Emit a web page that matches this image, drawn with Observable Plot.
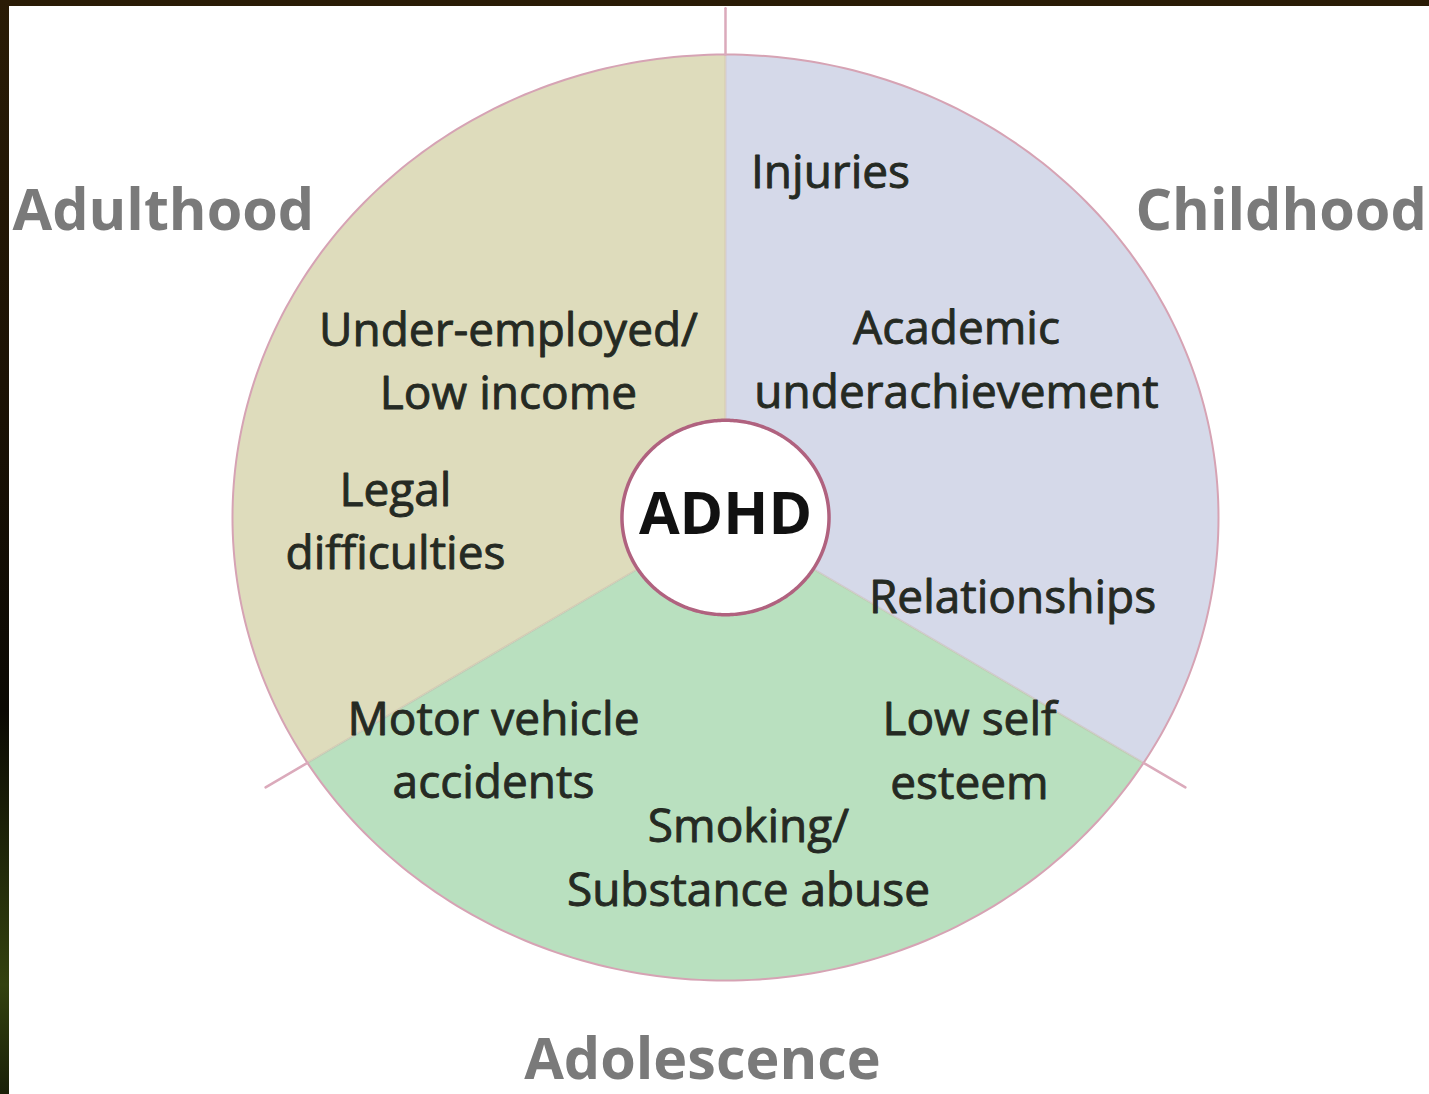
<!DOCTYPE html>
<html>
<head>
<meta charset="utf-8">
<script src="https://cdn.jsdelivr.net/npm/d3@7"></script>
<script src="https://cdn.jsdelivr.net/npm/@observablehq/plot@0.6"></script>
<style>
  html, body { margin: 0; padding: 0; }
  body {
    width: 1429px; height: 1094px; overflow: hidden;
    background: linear-gradient(180deg, #2a1c06 0%, #1c1204 35%, #0b0903 65%, #33420f 90%, #1a2008 100%);
  }
  #chart { position: absolute; left: 9px; top: 6px; }
</style>
</head>
<body>
<div id="chart"></div>
<script>
// ---- data ----
const stages = ["Childhood", "Adulthood", "Adolescence"];
const stageStart = [-32, 90, 212];   // sector start angle (deg)
const stageEnd = [90, 212, 328];     // sector end angle (deg)
const dividerAngles = [90, 212, 328];
const centerLabel = "ADHD";
const outcomes = [
  "Injuries",
  "Academic\nunderachievement",
  "Relationships",
  "Low self\nesteem",
  "Smoking/\nSubstance abuse",
  "Motor vehicle\naccidents",
  "Legal\ndifficulties",
  "Under-employed/\nLow income"
];
// ---- layout (chart units, radius = 1) ----
const outcomeX = [0.213, 0.4686, 0.5822, 0.4949, 0.0467, -0.4706, -0.6694, -0.4402];
const outcomeY = [0.7127, 0.2376, -0.2073, -0.6069, -0.838, -0.6048, -0.1102, 0.2354];
const stageLabelX = [0.8316, -1.4462, -0.0467];
const stageLabelY = [0.6199, 0.6199, -1.2117];
const stageLabelAnchor = ["start", "start", "middle"];
// ---- styles ----
const stageColors = ["#d5d9e9", "#dedcbc", "#b9e0bf"];
const lineColor = "#dbaabb";
const rimColor = "#d6a3b4";
const hubStroke = "#b0627f";
const textColor = "#252a23";
const headColor = "#7a7a7a";

const hubR = 0.21, rimR = 1, divR = 1.1;
const rad = d => d * Math.PI / 180;

// sector polygons
const sectorPts = [];
stages.forEach((s, i) => {
  sectorPts.push({stage: s, x: 0, y: 0});
  for (let a = stageStart[i]; a <= stageEnd[i]; a += 1) {
    sectorPts.push({stage: s, x: Math.cos(rad(a)), y: Math.sin(rad(a))});
  }
  sectorPts.push({stage: s, x: 0, y: 0});
});
const circle = r => d3.range(0, 361, 1).map(a => ({x: r * Math.cos(rad(a)), y: r * Math.sin(rad(a))}));
const segs = (r0, r1) => dividerAngles.flatMap((a, i) => [
  {k: i, x: r0 * Math.cos(rad(a)), y: r0 * Math.sin(rad(a))},
  {k: i, x: r1 * Math.cos(rad(a)), y: r1 * Math.sin(rad(a))}
]);
const outcomeData = outcomes.map((t, i) => ({t, x: outcomeX[i], y: outcomeY[i]}));
const stageData = stages.map((t, i) => ({t, x: stageLabelX[i], y: stageLabelY[i], a: stageLabelAnchor[i]}));

const chart = Plot.plot({
  width: 1420,
  height: 1088,
  margin: 0,
  x: {domain: [-1.4523, 1.4280], axis: null},
  y: {domain: [-1.2462, 1.1037], axis: null},
  color: {domain: stages, range: stageColors},
  style: {background: "white", fontFamily: "'Open Sans', sans-serif", overflow: "visible"},
  marks: [
    Plot.line(sectorPts, {x: "x", y: "y", z: "stage", fill: "stage", stroke: "none", curve: "linear"}),
    Plot.line(segs(0, rimR), {x: "x", y: "y", z: "k", stroke: "#c9a9a0", strokeOpacity: 0.35, strokeWidth: 2}),
    Plot.line(circle(rimR), {x: "x", y: "y", stroke: rimColor, strokeWidth: 2}),
    Plot.line(segs(rimR, divR), {x: "x", y: "y", z: "k", stroke: lineColor, strokeWidth: 2.5}),
    Plot.line(circle(hubR), {x: "x", y: "y", fill: "white", stroke: hubStroke, strokeWidth: 3.5}),
    Plot.text([centerLabel], {x: () => 0, y: () => -0.0346, text: d => d, fontSize: 59, fontWeight: "bold", fill: "#111", lineAnchor: "bottom"}),
    Plot.text(outcomeData, {x: "x", y: "y", text: "t", fontSize: 46, fill: textColor, stroke: textColor, strokeWidth: 0.9, paintOrder: "stroke", lineAnchor: "bottom", lineHeight: 1.37}),
    ...stageData.map(d => Plot.text([d], {x: "x", y: "y", text: "t", textAnchor: d.a, fontSize: 57.5, fontWeight: "bold", fill: headColor, lineAnchor: "bottom"}))
  ]
});
document.getElementById("chart").appendChild(chart);
</script>
</body>
</html>
